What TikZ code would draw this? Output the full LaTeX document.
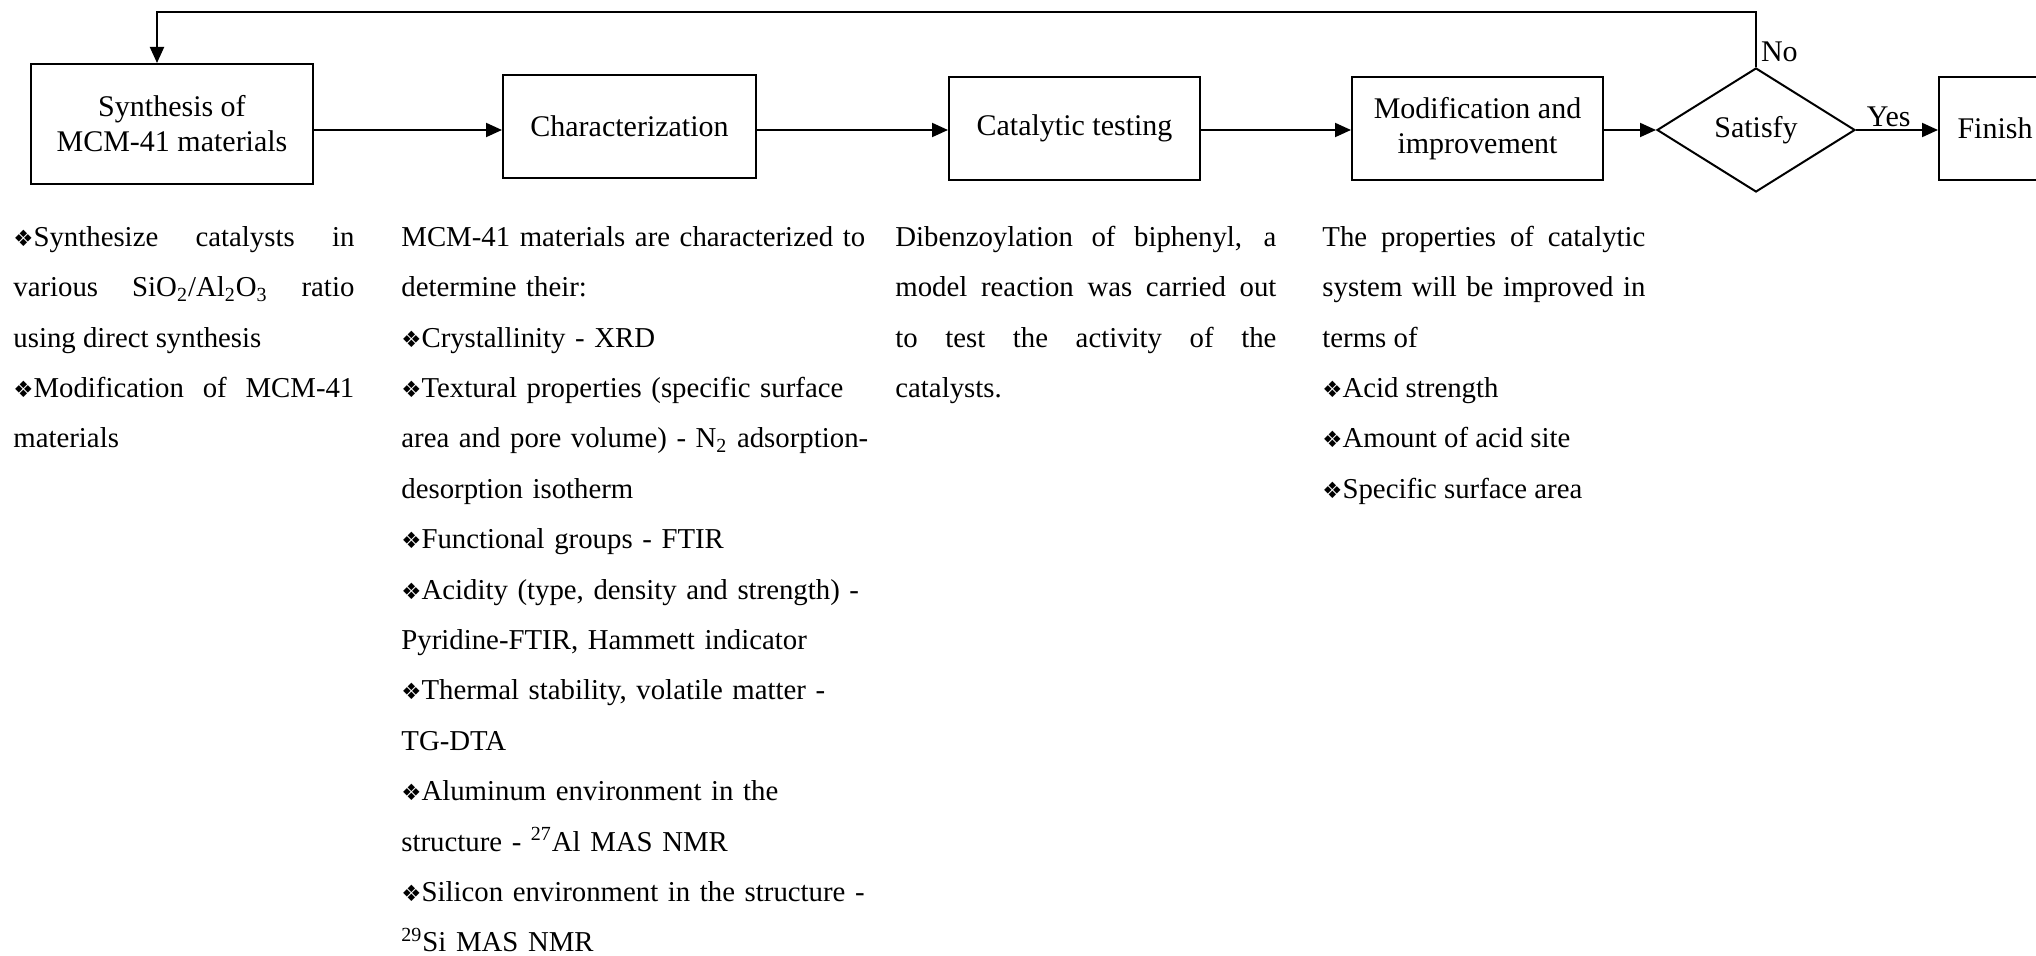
\documentclass[tikz,border=0pt]{standalone}
\usepackage{fontspec}
\setmainfont{Liberation Serif}
\newfontfamily\dingfont[Scale=0.78]{DejaVu Sans}
\usetikzlibrary{arrows.meta,shapes.geometric}
\newcommand{\bul}{{\dingfont ❖}}
\begin{document}
\begin{tikzpicture}[x=0.5pt,y=-0.5pt,
        stage/.style={draw,line width=1pt,inner sep=0pt,align=center,font=\fontsize{15}{17.5}\selectfont},
        flow/.style={line width=1pt,-{Triangle[length=8pt,width=7pt]}},
        notes/.style={anchor=north west,inner sep=0pt,font=\fontsize{14.4}{25.2}\selectfont}]
    \useasboundingbox (0,0) rectangle (2036,956);
    \clip (0,0) rectangle (2036,956);
    % the stages
    \node[stage,minimum width=141pt,minimum height=60pt] (synth) at (172,124) {Synthesis of\\MCM-41 materials};
    \node[stage,minimum width=126.5pt,minimum height=51.5pt] (charac) at (629.5,126.5) {Characterization};
    \node[stage,minimum width=125.5pt,minimum height=51.5pt] (test) at (1074.5,128.5) {Catalytic testing};
    \node[stage,minimum width=125.5pt,minimum height=51.5pt] (modif) at (1477.5,128.5) {Modification and\\improvement};
    \node[stage,diamond,minimum width=99pt,minimum height=62pt] (satisfy) at (1756,130) {Satisfy};
    \node[stage,anchor=west,minimum width=56pt,minimum height=51.5pt] (finish) at (1938,128.5) {Finish};
    \coordinate (loop) at (157,12);
    % connectors
    \draw[flow] (synth.east |- satisfy.west) -- (charac.west |- satisfy.west);
    \draw[flow] (charac.east |- satisfy.west) -- (test.west |- satisfy.west);
    \draw[flow] (test.east |- satisfy.west) -- (modif.west |- satisfy.west);
    \draw[flow] (modif.east |- satisfy.west) -- (satisfy.west);
    \draw[flow] (satisfy.east) -- node[above,inner sep=1pt,pos=0.4,font=\fontsize{15}{17.5}\selectfont] (yes) {Yes} (finish.west |- satisfy.east);
    \draw[flow] (satisfy.north) -- node[right,inner sep=2pt,pos=0.28,font=\fontsize{15}{17.5}\selectfont] (no) {No} (satisfy.north |- loop) -- (loop) -- (loop |- synth.north);
    % notes under the stages
    \node[notes,text width=170.5pt,align=justify] (synthtxt) at (13,210.7) {\strut\bul Synthesize catalysts in\linebreak various SiO\textsubscript{2}/Al\textsubscript{2}O\textsubscript{3} ratio\linebreak using direct synthesis\\\bul Modification of MCM-41\linebreak materials};
    \node[notes,text width=240pt,align=left] (charactxt) at (401,210.7) {\strut MCM-41 materials are characterized to\\
        determine their:\\
        \bul Crystallinity - XRD\\
        \bul Textural properties (specific surface\\
        area and pore volume) - N\textsubscript{2} adsorption-\\
        desorption isotherm\\
        \bul Functional groups - FTIR\\
        \bul Acidity (type, density and strength) -\\
        Pyridine-FTIR, Hammett indicator\\
        \bul Thermal stability, volatile matter -\\
        TG-DTA\\
        \bul Aluminum environment in the\\
        structure - \textsuperscript{27}Al MAS NMR\\
        \bul Silicon environment in the structure -\\
        \textsuperscript{29}Si MAS NMR};
    \node[notes,text width=190.5pt,align=justify] (testtxt) at (895,210.7) {\strut Dibenzoylation of biphenyl, a\linebreak model reaction was carried out\linebreak to test the activity of the\linebreak catalysts.};
    \node[notes,text width=161.5pt,align=justify] (modiftxt) at (1322,210.7) {\strut The properties of catalytic\linebreak system will be improved in\linebreak terms of\\\bul Acid strength\\\bul Amount of acid site\\\bul Specific surface area};
\end{tikzpicture}
\end{document}
